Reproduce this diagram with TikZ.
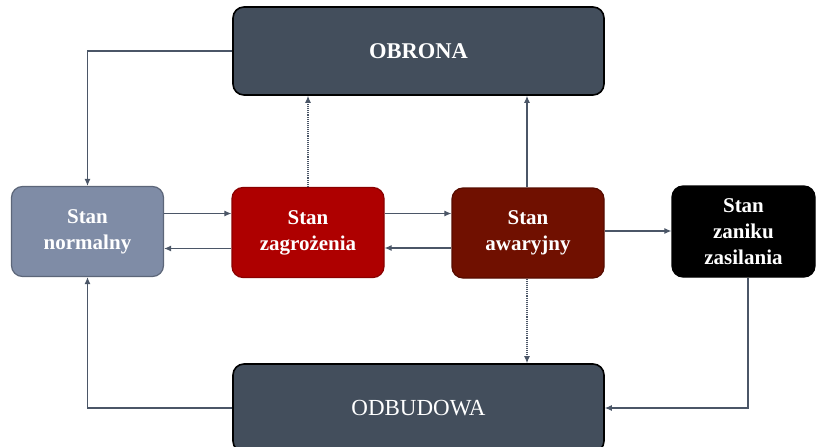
\documentclass[tikz,border=0pt]{standalone}
\usepackage{fontspec}
\setmainfont{Liberation Serif}
\usepackage{tikz}
\usetikzlibrary{arrows.meta}
\definecolor{grafit}{HTML}{434E5C}
\definecolor{szary}{HTML}{7F8CA6}
\definecolor{szaryram}{HTML}{5C6679}
\definecolor{czerwony}{HTML}{AE0000}
\definecolor{czerwonyram}{HTML}{8A0000}
\definecolor{bordo}{HTML}{701000}
\definecolor{bordoram}{HTML}{560C00}
\definecolor{linia}{HTML}{4B5667}

\tikzset{
  blok/.style={rounded corners=11pt, minimum width=152pt, minimum height=90pt,
    text=white, align=center, line width=1.2pt,
    font=\bfseries\fontsize{21}{26}\selectfont},
  duzy/.style={blok, draw=black, fill=grafit, line width=1.6pt,
    minimum width=371pt, minimum height=88pt},
  strz/.style={draw=linia, line width=1.1pt, -{Latex[length=7pt,width=6pt]}},
  kropki/.style={strz, densely dotted}
}

\begin{document}
\begin{tikzpicture}[x=1pt,y=-1pt]
    \useasboundingbox (0,0) rectangle (817,447);

    % Bloki gorny i dolny
    \node[duzy, font=\bfseries\fontsize{22.5}{26}\selectfont] (obrona) at (418.5,51) {OBRONA};
    \node[duzy, font=\fontsize{23}{26}\selectfont] (odbudowa) at (418.5,408) {ODBUDOWA};

    % Stany
    \node[blok, draw=szaryram, fill=szary] (normalny) at (87.5,231.5) {Stan\\normalny};
    \node[blok, draw=czerwonyram, fill=czerwony] (zagrozenia) at (308,232.5) {Stan\\zagrożenia};
    \node[blok, draw=bordoram, fill=bordo] (awaryjny) at (528,233) {Stan\\awaryjny};
    \node[blok, draw=black, fill=black, minimum width=143pt, minimum height=91pt]
        (zaniku) at (743.5,231.5) {Stan\\zaniku\\zasilania};

    % Przejscia miedzy stanami
    \draw[strz] ([yshift=18pt]normalny.east) -- ([yshift=18pt]normalny.east -| zagrozenia.west);
    \draw[strz] ([yshift=-16pt]zagrozenia.west) -- ([yshift=-16pt]zagrozenia.west -| normalny.east);
    \draw[strz] ([yshift=19pt]zagrozenia.east) -- ([yshift=19pt]zagrozenia.east -| awaryjny.west);
    \draw[strz] ([yshift=-15pt]awaryjny.west) -- ([yshift=-15pt]awaryjny.west -| zagrozenia.east);
    \draw[strz] ([yshift=2pt]awaryjny.east) -- ([yshift=2pt]awaryjny.east -| zaniku.west);

    % Polaczenia z OBRONA i ODBUDOWA
    \draw[strz] (obrona.west) -| (normalny.north);
    \draw[kropki] (zagrozenia.north) -- (zagrozenia.north |- obrona.south);
    \draw[strz] ([xshift=-1pt]awaryjny.north) -- ([xshift=-1pt]awaryjny.north |- obrona.south);
    \draw[kropki] ([xshift=-1pt]awaryjny.south) -- ([xshift=-1pt]awaryjny.south |- odbudowa.north);
    \draw[strz] ([xshift=4.5pt]zaniku.south) |- (odbudowa.east);
    \draw[strz] (odbudowa.west) -| (normalny.south);
\end{tikzpicture}
\end{document}
